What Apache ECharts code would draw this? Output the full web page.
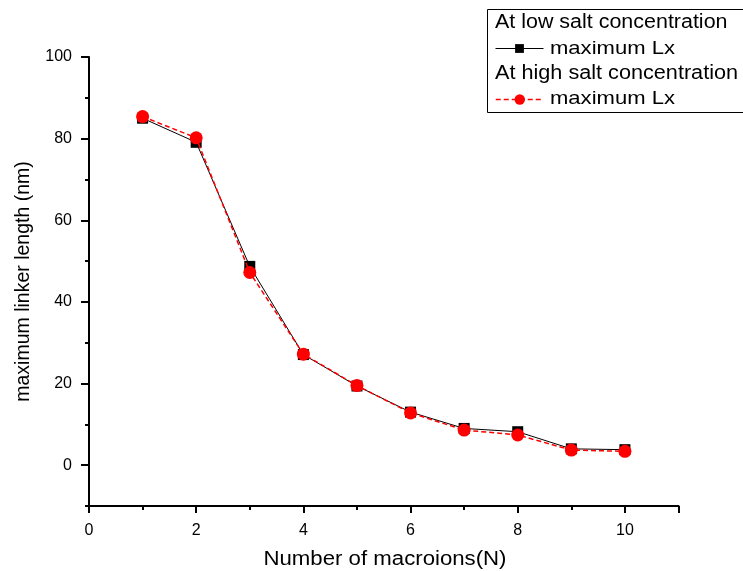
<!DOCTYPE html>
<html><head><meta charset="utf-8">
<script src="https://cdn.jsdelivr.net/npm/echarts@6/dist/echarts.min.js"></script>
<style>html,body{margin:0;padding:0;background:#fff}#c{width:743px;height:571px}</style>
</head><body><div id="c"></div>
<script>
var xValues = [1, 2, 3, 4, 5, 6, 7, 8, 9, 10];
var lowSalt = [85.0, 79.1, 48.7, 27.1, 19.4, 13.0, 9.0, 8.2, 4.0, 3.8];
var highSalt = [85.4, 80.2, 47.2, 27.2, 19.5, 12.8, 8.6, 7.4, 3.7, 3.4];
var yMajorTicks = [0, 20, 40, 60, 80, 100];
var headerLow = 'At low salt concentration';
var headerHigh = 'At high salt concentration';
var seriesName = 'maximum Lx';
var xTitle = 'Number of macroions(N)';
var yTitle = 'maximum linker length (nm)';

function pairs(xs, ys){ return xs.map(function(x,i){ return [x, ys[i]]; }); }
var FONT = '"Liberation Sans", Arial, sans-serif';
var chart = echarts.init(document.getElementById('c'), null, {renderer:'canvas'});
chart.setOption({
  animation:false,
  backgroundColor:'#fff',
  grid:{left:89, top:57, right:64.5, bottom:65, containLabel:false},
  xAxis:{
    type:'value', min:0, max:11, interval:2,
    axisLine:{onZero:false, lineStyle:{color:'#000', width:2}},
    axisTick:{show:true, length:7, lineStyle:{color:'#000', width:2}},
    minorTick:{show:true, splitNumber:2, length:4, lineStyle:{color:'#000', width:2}},
    axisLabel:{fontFamily:FONT, fontSize:16, color:'#000', margin:17,
      formatter:function(v){ return v<=10 ? String(v) : ''; }},
    splitLine:{show:false}
  },
  yAxis:[
    {
      type:'value', min:-10, max:100, interval:10,
      axisLine:{show:true, onZero:false, lineStyle:{color:'#000', width:2}},
      axisTick:{show:true, length:4, lineStyle:{color:'#000', width:2}},
      axisLabel:{show:false},
      splitLine:{show:false}
    },
    {
      type:'value', min:-10, max:100, position:'left',
      name:yTitle, nameLocation:'middle', nameGap:55,
      nameTextStyle:{fontFamily:FONT, fontSize:19.5, color:'#000'},
      axisLine:{show:false},
      axisTick:{show:true, length:8, customValues:yMajorTicks, lineStyle:{color:'#000', width:2}},
      axisLabel:{fontFamily:FONT, fontSize:16, color:'#000', margin:17, customValues:yMajorTicks},
      splitLine:{show:false}
    }
  ],
  legend:[
    {data:[{name:'low'}], left:495, top:43, padding:0, itemWidth:48, itemHeight:11, itemGap:0,
      formatter:function(){ return ''; }, lineStyle:{width:1}},
    {data:[{name:'high'}], left:495, top:93, padding:0, itemWidth:48, itemHeight:13, itemGap:0,
      formatter:function(){ return ''; }, lineStyle:{width:1.5}}
  ],
  graphic:[
    {type:'rect', left:485, top:7, shape:{width:300, height:103},
      style:{fill:'none', stroke:'#000', lineWidth:1}},
    {type:'text', x:495, y:23, scaleX:1.1, style:{text:headerLow, font:'19.5px '+FONT, fill:'#000', textAlign:'left', textVerticalAlign:'middle'}},
    {type:'text', x:550, y:49, scaleX:1.16, style:{text:seriesName, font:'19px '+FONT, fill:'#000', textAlign:'left', textVerticalAlign:'middle'}},
    {type:'text', x:495, y:74, scaleX:1.11, style:{text:headerHigh, font:'19.5px '+FONT, fill:'#000', textAlign:'left', textVerticalAlign:'middle'}},
    {type:'text', x:550, y:99, scaleX:1.16, style:{text:seriesName, font:'19px '+FONT, fill:'#000', textAlign:'left', textVerticalAlign:'middle'}},
    {type:'text', x:385, y:559, scaleX:1.11, style:{text:xTitle, font:'20px '+FONT, fill:'#000', textAlign:'center', textVerticalAlign:'middle'}}
  ],
  series:[
    {name:'low', type:'line', data:pairs(xValues, lowSalt), symbol:'rect', symbolSize:11,
      itemStyle:{color:'#000'}, lineStyle:{color:'#000', width:1, type:'solid'}, z:2},
    {name:'high', type:'line', data:pairs(xValues, highSalt), symbol:'circle', symbolSize:13,
      itemStyle:{color:'#ff0000'}, lineStyle:{color:'#ff0000', width:1.5, type:[5,3]}, z:3}
  ]
});
</script></body></html>
